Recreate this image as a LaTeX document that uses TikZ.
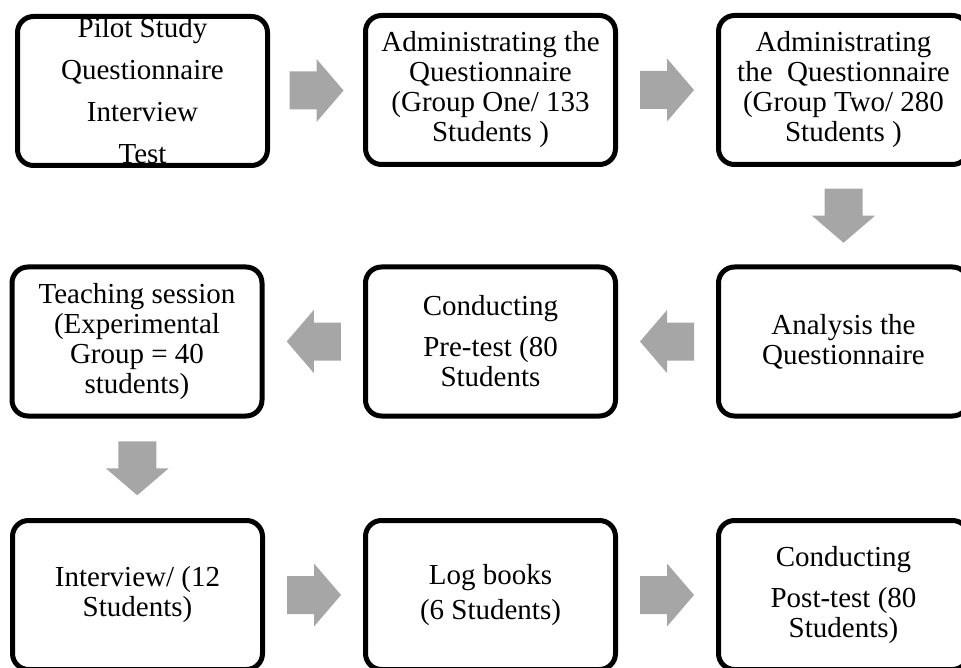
\documentclass[tikz,border=0pt]{standalone}
\usepackage{fontspec}
\setmainfont{Liberation Serif}
\usetikzlibrary{calc}

\definecolor{arrowfill}{RGB}{166,166,166}

\tikzset{
  stage/.style={draw=black, line width=5pt, rounded corners=16pt, fill=white,
    minimum width=250pt, minimum height=149pt, inner sep=0pt, align=center,
    font=\fontsize{29}{30}\selectfont},
}

% block arrow centred on #1, turned by #2 degrees (0 = pointing right)
\newcommand\blockarrow[2]{%
  \fill[arrowfill, shift={(#1)}, rotate=#2]
    (-27,-19) -- (0,-19) -- (0,-31.5) -- (27,0) -- (0,31.5) -- (0,19) -- (-27,19) -- cycle;}

\begin{document}
\begin{tikzpicture}[x=1pt, y=-1pt]
  \useasboundingbox (0,0) rectangle (961,668);
  \clip (0,0) rectangle (961,668);

  % first row
  \node[stage] (pilot) at (142.5,91)
    {Pilot Study\\[12pt]Questionnaire\\[12pt]Interview\\[12pt]Test};
  \node[stage] (groupone) at (490.5,90)
    {Administrating the\\Questionnaire\\(Group One/ 133\\Students )};
  \node[stage] (grouptwo) at (843.5,90)
    {Administrating\\the~ Questionnaire\\(Group Two/ 280\\Students )};

  % second row
  \node[stage] (analysis) at (843.5,341.5)
    {Analysis the\\Questionnaire};
  \node[stage] (pretest) at (490.5,341.5)
    {Conducting\\[11pt]Pre-test (80\\Students};
  \node[stage] (teaching) at (137,341.5)
    {Teaching session\\(Experimental\\Group = 40\\students)};

  % third row
  \node[stage] (interview) at (137.5,595)
    {Interview/ (12\\Students)};
  \node[stage] (logbooks) at (490.5,595)
    {Log books\\[5pt](6 Students)};
  \node[stage] (posttest) at (843.5,595)
    {Conducting\\[11pt]Post-test (80\\Students)};

  % block arrows between the stages
  \blockarrow{$(pilot.east)!0.5!(groupone.west)$}{0}
  \blockarrow{$(groupone.east)!0.5!(grouptwo.west)$}{0}
  \blockarrow{$(grouptwo.south)!0.5!(analysis.north)$}{-90}
  \blockarrow{$(analysis.west)!0.5!(pretest.east)$}{180}
  \blockarrow{$(pretest.west)!0.5!(teaching.east)$}{180}
  \blockarrow{$(teaching.south)!0.5!(interview.north)$}{-90}
  \blockarrow{$(interview.east)!0.5!(logbooks.west)$}{0}
  \blockarrow{$(logbooks.east)!0.5!(posttest.west)$}{0}
\end{tikzpicture}
\end{document}
